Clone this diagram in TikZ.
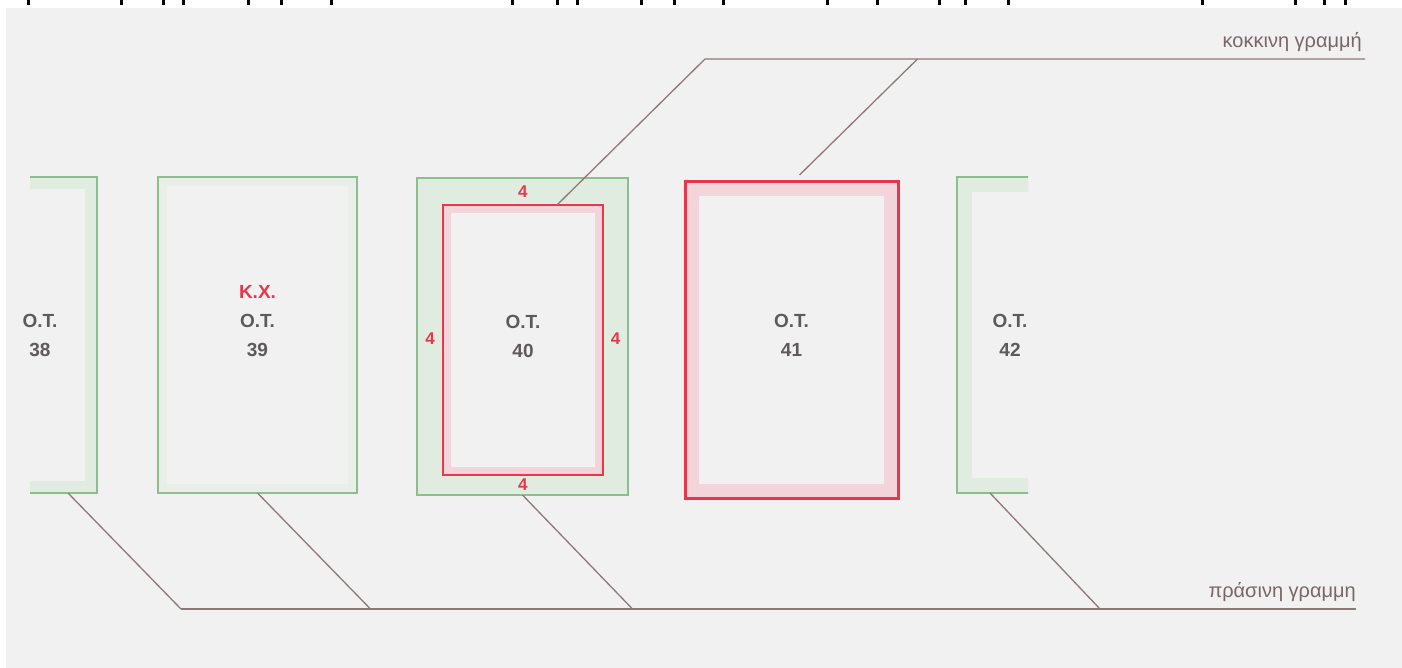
\documentclass[tikz,border=0pt]{standalone}
\usepackage{fontspec}
\setmainfont{Liberation Sans}
\usetikzlibrary{positioning, calc}
\definecolor{paper}{HTML}{F1F1F1}
\definecolor{lotgreen}{HTML}{8CBF8C}
\definecolor{bandgreen}{HTML}{E1ECE0}
\definecolor{lotred}{HTML}{E8364A}
\definecolor{bandpink}{HTML}{F3D4DA}
\definecolor{leadgray}{HTML}{8F7878}
\definecolor{textgray}{HTML}{5E5A5A}

\tikzset{
  band/.style 2 args={path picture={\draw[#1, line width=#2] (path picture bounding box.south west) rectangle (path picture bounding box.north east);}},
  lot/.style={draw=lotgreen, line width=1.4pt, fill=paper, inner sep=0pt, outer sep=0pt},
  zone/.style={draw=lotred, fill=paper, inner sep=0pt, outer sep=0pt},
  lottext/.style={font=\fontsize{19}{29}\selectfont\bfseries, text=textgray, align=center},
  dimtext/.style={font=\fontsize{17}{20}\selectfont\bfseries, text=lotred, inner sep=0pt},
  leader/.style={draw=leadgray, line width=1.3pt},
  linelabel/.style={font=\fontsize{20}{24}\selectfont, text=leadgray!85!black, inner sep=0pt}
}

\begin{document}
\begin{tikzpicture}[x=1pt, y=-1pt]
    \useasboundingbox (0,0) rectangle (1402,668);
    \fill[white] (0,0) rectangle (1402,668);
    \fill[paper] (6,8) rectangle (1402,668);
    \foreach \x in {28,121,163,183,248,281,331,512,557,577,641,674,723,827,877,939,965,1008,1202,1295,1324,1345}
        \fill[black] (\x-1.5,0) rectangle (\x+1.5,5);

    % building blocks
    \begin{scope}
        \clip (30,8) rectangle (1028,668);
        \node[lot, band={bandgreen}{24pt}, minimum width=114pt, minimum height=316pt] (ot38) at (40,335) {};
        \node[lot, band={bandgreen!50!paper}{18pt}, minimum width=199pt, minimum height=316pt] (ot39) at (257.5,335) {};
        \node[lot, fill=bandgreen, minimum width=211pt, minimum height=317pt] (ot40) at (522.5,336.5) {};
        \node[zone, line width=2.5pt, band={bandpink}{16pt}, minimum width=160pt, minimum height=270pt] (zone40) at (523,340) {};
        \node[zone, line width=3pt, band={bandpink}{28pt}, minimum width=213pt, minimum height=316pt] (ot41) at (791.5,340) {};
        \node[lot, band={bandgreen}{30pt}, minimum width=106pt, minimum height=316pt] (ot42) at (1010,335) {};
    \end{scope}

    \node[lottext] (t38) at (ot38) {Ο.Τ.\\38};
    \node[lottext] (t39) at ([shift={(0,-14)}]ot39.center) {\textcolor{lotred}{Κ.Χ.}\\Ο.Τ.\\39};
    \node[lottext] (t40) at ([shift={(0,-4)}]zone40.center) {Ο.Τ.\\40};
    \node[lottext] (t41) at ([shift={(0,-5)}]ot41.center) {Ο.Τ.\\41};
    \node[lottext] (t42) at (ot42) {Ο.Τ.\\42};

    % setbacks
    \node[dimtext] (d4top) at ($(ot40.north)!0.5!(zone40.north)$) {4};
    \node[dimtext] (d4bot) at ($(ot40.south)!0.5!(zone40.south)$) {4};
    \node[dimtext] (d4left) at ($(ot40.west)!0.5!(zone40.west)$) {4};
    \node[dimtext] (d4right) at ($(ot40.east)!0.5!(zone40.east)$) {4};

    % green line
    \coordinate (gend) at (1356,609);
    \draw[leader] ([shift={(28,0)}]ot38.south) -- ++(113,116) coordinate (gstart);
    \draw[leader] (ot39.south) -- ++(113,116);
    \draw[leader] (ot40.south) -- ++(110,114);
    \draw[leader] ([shift={(-20,0)}]ot42.south) -- ++(110,116);
    \draw[leader] (gstart) -- (gend);
    \node[linelabel, anchor=south east] (glabel) at ([shift={(0,-7)}]gend) {πράσινη γραμμη};

    % red line
    \coordinate (rend) at (1365,59);
    \draw[leader] ([shift={(34,0)}]zone40.north) -- ++(148,-146) coordinate (rstart) -- (rend);
    \draw[leader] ([shift={(8,-7)}]ot41.north) -- ++(118,-116);
    \node[linelabel, anchor=south east] (rlabel) at ([shift={(-3,-7)}]rend) {κοκκινη γραμμή};
\end{tikzpicture}
\end{document}
